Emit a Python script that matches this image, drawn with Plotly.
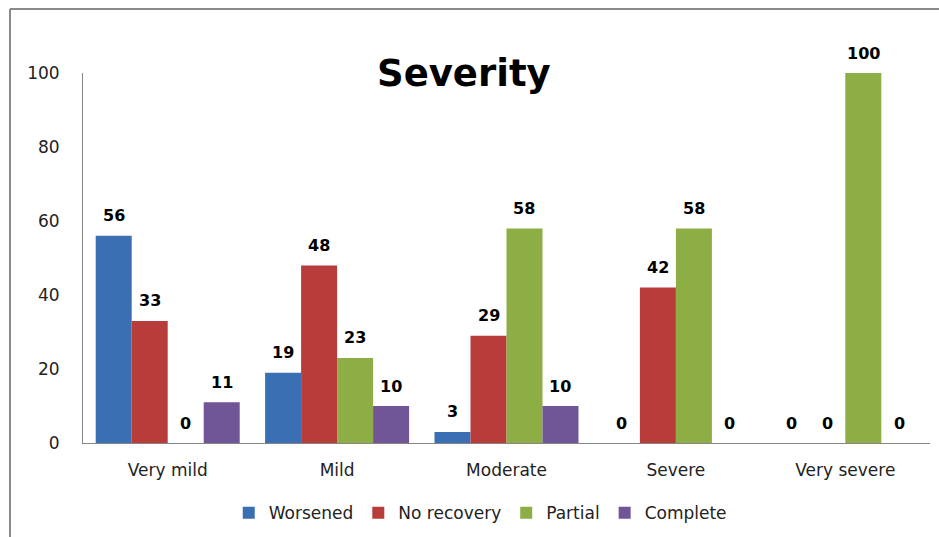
import plotly.graph_objects as go

categories = ["Very mild", "Mild", "Moderate", "Severe", "Very severe"]
worsened = [56, 19, 3, 0, 0]
no_recovery = [33, 48, 29, 42, 0]
partial = [0, 23, 58, 58, 100]
complete = [11, 10, 10, 0, 0]
y_ticks = [0, 20, 40, 60, 80, 100]

series = [
    ("Worsened", worsened, "#3b6fb3"),
    ("No recovery", no_recovery, "#b83c39"),
    ("Partial", partial, "#8cae45"),
    ("Complete", complete, "#705597"),
]

W, H = 939, 537
ML, MR, MT, MB = 83, 9, 73, 94
plot_w = W - ML - MR
plot_h = H - MT - MB
bargap = 0.15
bar_px = plot_w / len(categories) * (1 - bargap) / len(series)

fig = go.Figure()
for i, (name, vals, col) in enumerate(series):
    fig.add_trace(go.Bar(
        x=categories, y=vals, name=name,
        marker=dict(color=col, line=dict(width=0)),
    ))
    for c, v in zip(categories, vals):
        fig.add_annotation(
            x=c, y=v, xref="x", yref="y", text=f"<b>{v}</b>", showarrow=False,
            xshift=(i - (len(series) - 1) / 2) * bar_px, yshift=20,
            yanchor="middle", xanchor="center",
            font=dict(family="DejaVu Sans", size=16, color="#000000"),
        )

fig.update_layout(
    width=W, height=H,
    margin=dict(l=ML, r=MR, t=MT, b=MB, autoexpand=False),
    paper_bgcolor="white", plot_bgcolor="white",
    barmode="group", bargap=bargap, bargroupgap=0,
    title=dict(text="<b>Severity</b>", x=0.494, xref="container", xanchor="center",
               y=1 - 73 / H, yref="container", yanchor="middle",
               font=dict(family="DejaVu Sans", size=37, color="#000000")),
    font=dict(family="DejaVu Sans", size=17, color="#222222"),
    xaxis=dict(showgrid=False, showline=True, linecolor="#868686", linewidth=1,
               ticks="", tickfont=dict(size=17, color="#222222"), ticklabelstandoff=12),
    yaxis=dict(range=[0, 100], tickvals=y_ticks, showgrid=False, zeroline=False,
               showline=True, linecolor="#868686", linewidth=1, ticks="",
               tickfont=dict(size=17, color="#222222"), ticklabelstandoff=19),
    legend=dict(orientation="h", x=0.469, xanchor="center", y=-0.19, yanchor="middle",
                font=dict(size=17, color="#222222"), itemwidth=30, traceorder="normal"),
    showlegend=True,
)

# chart frame (left and top edges)
fig.add_shape(type="line", xref="paper", yref="paper",
              x0=(10 - ML) / plot_w, x1=(945 - ML) / plot_w,
              y0=1 + (MT - 9) / plot_h, y1=1 + (MT - 9) / plot_h,
              line=dict(color="#8a8a8a", width=2))
fig.add_shape(type="line", xref="paper", yref="paper",
              x0=(10 - ML) / plot_w, x1=(10 - ML) / plot_w,
              y0=1 + (MT - 9) / plot_h, y1=-(545 - (H - MB)) / plot_h,
              line=dict(color="#8a8a8a", width=2))

fig.write_html("out.html")
